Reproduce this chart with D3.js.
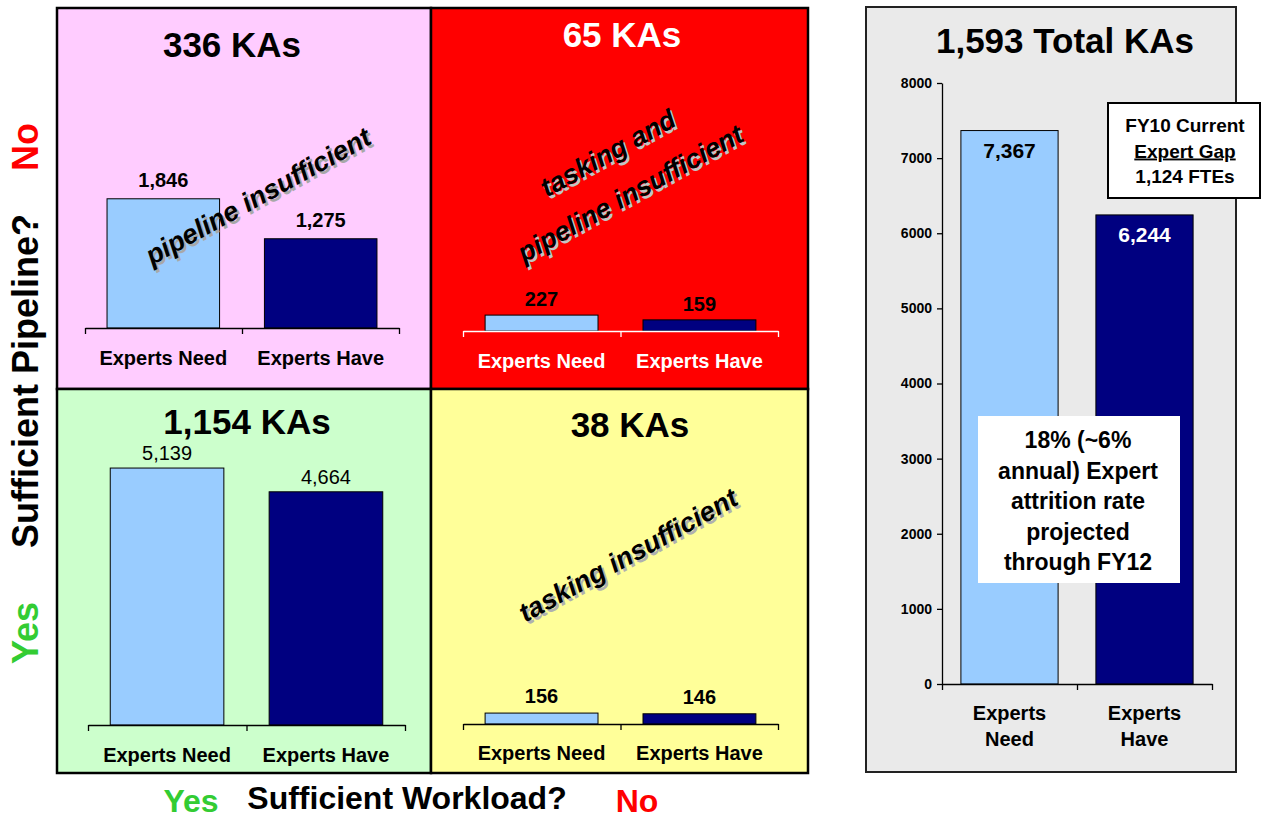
<!DOCTYPE html>
<html>
<head>
<meta charset="utf-8">
<script src="https://cdn.jsdelivr.net/npm/d3@7"></script>
<style>
  html, body { margin: 0; padding: 0; background: #ffffff; }
  svg { display: block; }
  text { font-family: "Liberation Sans", Arial, Helvetica, sans-serif; }
</style>
</head>
<body>
<svg id="chart" width="1264" height="818"></svg>
<script>
// ---- data ----
const categories = ["Experts Need", "Experts Have"];
const quadrantTitles = ["336 KAs", "65 KAs", "1,154 KAs", "38 KAs"];
const quadrantNotes = [["pipeline insufficient"], ["tasking and", "pipeline insufficient"], [], ["tasking insufficient"]];
const needValues = [1846, 227, 5139, 156];
const haveValues = [1275, 159, 4664, 146];

const totalTitle = "1,593 Total KAs";
const totalCategories = [["Experts", "Need"], ["Experts", "Have"]];
const totalValues = [7367, 6244];
const totalTicks = [0, 1000, 2000, 3000, 4000, 5000, 6000, 7000, 8000];
const gapNote = ["FY10 Current", "Expert Gap", "1,124 FTEs"];
const attritionNote = ["18% (~6%", "annual) Expert", "attrition rate", "projected", "through FY12"];

const rowAxisTitle = "Sufficient Pipeline?";
const colAxisTitle = "Sufficient Workload?";
const yesLabel = "Yes", noLabel = "No";

// ---- styling ----
const lightBar = "#99CCFF", darkBar = "#000080";
const green = "#33CC33", red = "#FF0000";
const fmt = d3.format(",");

const svg = d3.select("#chart");

// quadrant layout: background boxes, plot frames, text colours
const qx = [57, 431, 808], qy = [8, 389, 773];
const quads = [
  { bg: "#FFCCFF", col: 0, row: 0, ink: "#000", axisInk: "#000", title: [232, 57], note: [258, 196], shadow: "#a8a8a8",
    ax: [85, 399], base: 328, ymax: 2000, h: 140, valOff: 12, labBase: 365, valWeight: "bold" },
  { bg: "#FF0000", col: 1, row: 0, ink: "#fff", axisInk: "#fff", title: [622, 47], note: [619, 173], shadow: "#c4c4c4",
    ax: [463, 778], base: 331, ymax: 2000, h: 140, valOff: 9, labBase: 368, valWeight: "bold" },
  { bg: "#CCFFCC", col: 0, row: 1, ink: "#000", axisInk: "#000", title: [247, 434], note: null, shadow: "#a8a8a8",
    ax: [88, 405], base: 725, ymax: 6000, h: 300, valOff: 8, labBase: 762, valWeight: "normal" },
  { bg: "#FFFF99", col: 1, row: 1, ink: "#000", axisInk: "#000", title: [630, 437], note: [628, 555], shadow: "#b0b0b0",
    ax: [463, 778], base: 724, ymax: 2000, h: 140, valOff: 10, labBase: 760, valWeight: "bold" }
];

quads.forEach((q, i) => {
  const g = svg.append("g");
  g.append("rect")
    .attr("x", qx[q.col]).attr("y", qy[q.row])
    .attr("width", qx[q.col + 1] - qx[q.col]).attr("height", qy[q.row + 1] - qy[q.row])
    .attr("fill", q.bg).attr("stroke", "#000").attr("stroke-width", 2.5);

  const values = [needValues[i], haveValues[i]];
  const x = d3.scaleBand().domain(categories).range(q.ax).paddingInner(0.285).paddingOuter(0.14);
  const y = d3.scaleLinear().domain([0, q.ymax]).range([q.base, q.base - q.h]);

  // title
  g.append("text").attr("x", q.title[0]).attr("y", q.title[1])
    .attr("text-anchor", "middle").attr("font-size", 35).attr("font-weight", "bold")
    .attr("fill", q.ink).text(quadrantTitles[i]);

  // bars
  g.selectAll("rect.bar").data(categories).join("rect").attr("class", "bar")
    .attr("x", d => x(d)).attr("width", x.bandwidth())
    .attr("y", (d, j) => y(values[j])).attr("height", (d, j) => y(0) - y(values[j]))
    .attr("fill", (d, j) => j === 0 ? lightBar : darkBar)
    .attr("stroke", "#000").attr("stroke-width", 1);

  // value labels
  g.selectAll("text.val").data(categories).join("text").attr("class", "val")
    .attr("x", d => x(d) + x.bandwidth() / 2)
    .attr("y", (d, j) => y(values[j]) - q.valOff)
    .attr("text-anchor", "middle").attr("font-size", 20).attr("font-weight", q.valWeight)
    .attr("fill", "#000").text((d, j) => fmt(values[j]));

  // category axis with ticks at band boundaries
  const edges = d3.scaleLinear().domain([0, categories.length]).range(q.ax);
  const axis = g.append("g").attr("transform", `translate(0,${q.base})`)
    .call(d3.axisBottom(edges).tickValues(d3.range(categories.length + 1)).tickSize(6).tickSizeOuter(0).tickFormat(""));
  axis.selectAll("path, line").attr("stroke", q.axisInk).attr("stroke-width", 1.3);

  g.selectAll("text.cat").data(categories).join("text").attr("class", "cat")
    .attr("x", d => x(d) + x.bandwidth() / 2).attr("y", q.labBase)
    .attr("text-anchor", "middle").attr("font-size", 20).attr("font-weight", "bold")
    .attr("fill", q.ink).text(d => d);

  // slanted note with drop shadow
  if (q.note) {
    const lines = quadrantNotes[i];
    const gap = 46;
    [[q.shadow, 2.5], ["#000", 0]].forEach(([col, off]) => {
      const ng = g.append("g")
        .attr("transform", `translate(${q.note[0] + off},${q.note[1] + off}) rotate(-29)`);
      lines.forEach((t, k) => {
        ng.append("text")
          .attr("x", 0).attr("y", (k - (lines.length - 1) / 2) * gap)
          .attr("dy", "0.35em").attr("text-anchor", "middle")
          .attr("font-size", 27).attr("font-weight", "bold").attr("font-style", "italic")
          .attr("fill", col).text(t);
      });
    });
  }
});

// ---- axis titles around the quadrants ----
const side = svg.append("g").attr("font-weight", "bold").attr("font-size", 36);
[[147, noLabel, red], [381, rowAxisTitle, "#000"], [633, yesLabel, green]].forEach(([cy, t, c]) => {
  side.append("text").attr("transform", `translate(38,${cy}) rotate(-90)`)
    .attr("text-anchor", "middle").attr("fill", c).text(t);
});
const bottom = svg.append("g").attr("font-weight", "bold").attr("font-size", 32);
[[191, 812, yesLabel, green], [407, 809, colAxisTitle, "#000"], [637, 812, noLabel, red]].forEach(([cx, by, t, c]) => {
  bottom.append("text").attr("x", cx).attr("y", by).attr("text-anchor", "middle").attr("fill", c).text(t);
});

// ---- totals panel ----
const tp = svg.append("g");
tp.append("rect").attr("x", 866).attr("y", 7).attr("width", 370).attr("height", 765)
  .attr("fill", "#EAEAEA").attr("stroke", "#222").attr("stroke-width", 2);
tp.append("text").attr("x", 1065).attr("y", 53).attr("text-anchor", "middle")
  .attr("font-size", 35).attr("font-weight", "bold").attr("fill", "#000").text(totalTitle);

const tx = d3.scaleBand().domain(totalCategories.map(d => d.join(" "))).range([942, 1212]).paddingInner(0.28).paddingOuter(0.14);
const ty = d3.scaleLinear().domain([0, 8000]).range([684, 83]);

tp.selectAll("rect.bar").data(totalValues).join("rect").attr("class", "bar")
  .attr("x", (d, j) => tx(tx.domain()[j])).attr("width", tx.bandwidth())
  .attr("y", d => ty(d)).attr("height", d => ty(0) - ty(d))
  .attr("fill", (d, j) => j === 0 ? lightBar : darkBar).attr("stroke", "#000").attr("stroke-width", 1);

tp.selectAll("text.val").data(totalValues).join("text").attr("class", "val")
  .attr("x", (d, j) => tx(tx.domain()[j]) + tx.bandwidth() / 2)
  .attr("y", d => ty(d) + 27).attr("text-anchor", "middle")
  .attr("font-size", 21).attr("font-weight", "bold")
  .attr("fill", (d, j) => j === 0 ? "#000" : "#fff").text(d => fmt(d));

const yAxis = tp.append("g").attr("transform", "translate(942,0)")
  .call(d3.axisLeft(ty).tickValues(totalTicks).tickSize(5).tickSizeOuter(0).tickPadding(5).tickFormat(d3.format("d")));
yAxis.selectAll("path, line").attr("stroke", "#000").attr("stroke-width", 1.3);
yAxis.selectAll("text").attr("font-size", 14).attr("font-weight", "bold").attr("fill", "#000")
  .attr("font-family", "'Liberation Sans', Arial, sans-serif");

const tEdges = d3.scaleLinear().domain([0, totalCategories.length]).range([942, 1212]);
const xAxis = tp.append("g").attr("transform", "translate(0,684)")
  .call(d3.axisBottom(tEdges).tickValues(d3.range(totalCategories.length + 1)).tickSize(6).tickSizeOuter(0).tickFormat(""));
xAxis.selectAll("path, line").attr("stroke", "#000").attr("stroke-width", 1.3);

totalCategories.forEach((lines, j) => {
  const cx = tx(tx.domain()[j]) + tx.bandwidth() / 2;
  lines.forEach((t, k) => {
    tp.append("text").attr("x", cx).attr("y", 720 + k * 26).attr("text-anchor", "middle")
      .attr("font-size", 20).attr("font-weight", "bold").attr("fill", "#000").text(t);
  });
});

// gap callout
tp.append("rect").attr("x", 1108).attr("y", 103).attr("width", 152).attr("height", 95)
  .attr("fill", "#fff").attr("stroke", "#000").attr("stroke-width", 2);
gapNote.forEach((t, k) => {
  tp.append("text").attr("x", 1185).attr("y", 132 + k * 25.5).attr("text-anchor", "middle")
    .attr("font-size", 19).attr("font-weight", "bold").attr("fill", "#000")
    .attr("text-decoration", k === 1 ? "underline" : null).text(t);
});

// attrition callout
tp.append("rect").attr("x", 978).attr("y", 416).attr("width", 202).attr("height", 167).attr("fill", "#fff");
attritionNote.forEach((t, k) => {
  tp.append("text").attr("x", 1078).attr("y", 448 + k * 30.5).attr("text-anchor", "middle")
    .attr("font-size", 23).attr("font-weight", "bold").attr("fill", "#000").text(t);
});
</script>
</body>
</html>
